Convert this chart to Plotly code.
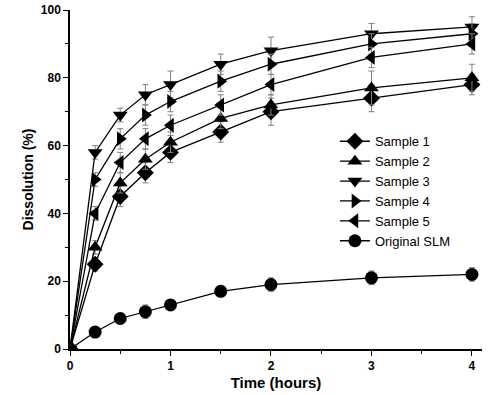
import plotly.graph_objects as go

time = [0, 0.25, 0.5, 0.75, 1, 1.5, 2, 3, 4]
names = ["Sample 1", "Sample 2", "Sample 3", "Sample 4", "Sample 5", "Original SLM"]
sample1 = [0, 25, 45, 52, 58, 64, 70, 74, 78]
sample2 = [0, 30, 49, 56, 61, 68, 72, 77, 80]
sample3 = [0, 58, 69, 75, 78, 84, 88, 93, 95]
sample4 = [0, 50, 62, 69, 73, 79, 84, 90, 93]
sample5 = [0, 40, 55, 62, 66, 72, 78, 86, 90]
slm = [0, 5, 9, 11, 13, 17, 19, 21, 22]
err1 = [0, 2, 3, 3, 3, 3, 4, 4, 3]
err2 = [0, 2, 3, 3, 3, 3, 3, 5, 4]
err3 = [0, 2, 2, 3, 4, 3, 4, 3, 3]
err4 = [0, 2, 3, 3, 3, 3, 3, 3, 3]
err5 = [0, 2, 3, 3, 3, 3, 3, 3, 3]
err_slm = [0, 1, 1, 2, 1, 1, 2, 2, 2]
symbols = ["diamond", "triangle-up", "triangle-down", "triangle-right", "triangle-left", "circle"]

series = [sample1, sample2, sample3, sample4, sample5, slm]
errors = [err1, err2, err3, err4, err5, err_slm]

fig = go.Figure()
for name, ys, es, sym in zip(names, series, errors, symbols):
    fig.add_trace(go.Scatter(
        x=time, y=ys, name=name, mode="lines+markers",
        line=dict(color="black", width=1.3),
        marker=dict(symbol=sym, size=13, color="black"),
        error_y=dict(type="data", array=es, visible=True, color="#808080", thickness=1, width=3),
    ))

font_family = "Arial, Liberation Sans, sans-serif"
axis_common = dict(
    showline=True, linecolor="black", linewidth=1.5, mirror=False,
    ticks="outside", ticklen=5, tickwidth=1.2, tickcolor="black",
    showgrid=False, zeroline=False, automargin=False,
    tickfont=dict(family=font_family, size=12, color="black", weight="bold"),
)
fig.update_xaxes(range=[0, 4.1], dtick=1, title_text="Time (hours)",
                 title_font=dict(family=font_family, size=15, color="black", weight="bold"),
                 minor=dict(dtick=0.5, ticks="outside", ticklen=3, tickcolor="black"),
                 title_standoff=5, **axis_common)
fig.update_yaxes(range=[0, 100], dtick=20, title_text="Dissolution (%)",
                 title_font=dict(family=font_family, size=14, color="black", weight="bold"),
                 minor=dict(dtick=10, ticks="outside", ticklen=3, tickcolor="black"),
                 title_standoff=4, **axis_common)

fig.update_layout(
    width=500, height=395,
    margin=dict(l=70, r=18, t=10, b=46),
    plot_bgcolor="white", paper_bgcolor="white",
    legend=dict(x=0.643, y=0.657, xanchor="left", yanchor="top",
                font=dict(family=font_family, size=13, color="black"),
                bgcolor="rgba(0,0,0,0)", tracegroupgap=0),
)

fig.write_html("out.html", config={"displayModeBar": False},
               post_script="document.body.style.margin='0';")
